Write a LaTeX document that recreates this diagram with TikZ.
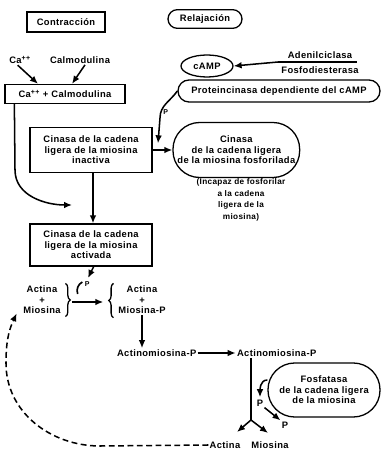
\documentclass[tikz,border=0pt]{standalone}
\usepackage{fontspec}
\setmainfont{Liberation Sans}[LetterSpace=4]
\usetikzlibrary{arrows.meta, positioning, calc, shapes.geometric, decorations.pathreplacing}

\begin{document}
\begin{tikzpicture}[
    >={Latex[length=2.4mm, width=2mm]},
    arr/.style={->, line width=1.3pt},
    lbl/.style={font=\fontsize{8}{9}\selectfont\bfseries, align=center, inner sep=1pt},
    small/.style={font=\fontsize{7}{10}\selectfont\bfseries, align=center, inner sep=1pt},
    box/.style={lbl, draw, line width=1.1pt},
    pill/.style={lbl, draw, line width=1.1pt},
    oval/.style={lbl, draw, ellipse, line width=1.1pt, inner sep=0pt},
    brc/.style={decorate, decoration={brace, amplitude=4pt}, line width=1.1pt},
]
\useasboundingbox (0,0) rectangle (11.43,13.5);
% ============================================================
% TOP:  Contraccion / Relajacion
% ============================================================
\node[box, minimum width=2.34cm, minimum height=0.6cm] (contra) at (1.98, 12.84) {Contracción};
\node[pill, rounded corners=2.8mm, minimum width=2.22cm, minimum height=0.56cm] (relaj) at (6.15, 12.93) {Relajación};
% --- Ca / Calmodulina ---
\node[lbl] (ca) at (0.6, 11.7) {Ca\textsuperscript{++}};
\node[lbl] (calm) at (2.4, 11.7) {Calmodulina};
\node[box, minimum width=3.6cm, minimum height=0.57cm] (cacalm) at (1.95, 10.68) {Ca\textsuperscript{++} + Calmodulina};
\draw[arr] ([xshift=-2pt]ca.south) -- ([xshift=-0.81cm]cacalm.north);
\draw[arr] ([xshift=0.15cm]calm.south) -- ([xshift=0.21cm]cacalm.north);
% --- cAMP ---
\node[oval, minimum width=1.56cm, minimum height=0.66cm] (camp) at (6.21, 11.52) {cAMP};
\node[lbl] (adenil) at (9.6, 11.85) {Adenilciclasa};
\node[lbl] (fosfo) at (9.6, 11.4) {Fosfodiesterasa};
\coordinate (barL) at (8.34, 11.64);
\coordinate (barR) at (10.7, 11.64);
\draw[line width=1.1pt] (barL) -- (barR);
\draw[arr] (barL) -- (camp.east);
% --- Proteincinasa ---
\node[pill, rounded corners=3.3mm, minimum width=6.06cm, minimum height=0.66cm] (protk) at (8.37, 10.77) {Proteincinasa dependiente del cAMP};
% ============================================================
% MIDDLE: inactiva -> fosforilada
% ============================================================
\node[box, minimum width=3.66cm, minimum height=1.35cm] (inact) at (2.73, 9.0) {Cinasa de la cadena\\ligera de la miosina\\inactiva};
\node[pill, rounded corners=8mm, minimum width=3.8cm, minimum height=1.65cm] (fosfor) at (7.09, 9.0) {Cinasa\\de la cadena ligera\\de la miosina fosforilada};
\node[small] (incap) at (7.23, 7.5) {(Incapaz de fosforilar\\a la cadena\\ligera de la\\miosina)};
\draw[arr] (inact.east) -- (fosfor.west);
% P from proteincinasa
\coordinate (pjoin) at (4.74, 9.2);
\draw[arr] (protk.west) to[out=-125, in=90] (4.8, 9.96) -- (pjoin);
\node[lbl, font=\fontsize{6}{7}\selectfont\bfseries] (pk) at (4.97, 10.14) {P};
% Ca-calmodulina -> activada
\coordinate (catip) at (2.16, 7.35);
\draw[arr] ([xshift=0.3cm]cacalm.south west) -- (0.45, 8.4) to[out=-90, in=180] (catip);
% ============================================================
% LOWER: activada + actina/miosina
% ============================================================
\node[box, minimum width=3.66cm, minimum height=1.26cm] (activ) at (2.73, 6.15) {Cinasa de la cadena\\ligera de la miosina\\activada};
\draw[arr] ([xshift=0.06cm]inact.south) -- ([xshift=0.06cm]activ.north);
\coordinate (pin) at (2.64, 5.16);
\draw[arr] ([xshift=0.08cm]activ.south) -- (pin);
\node[lbl] (am) at (1.26, 4.5) {Actina\\+\\Miosina};
\node[lbl] (amp) at (4.26, 4.5) {Actina\\+\\Miosina-P};
\draw[brc] ([xshift=3pt, yshift=1pt]am.north east) -- ([xshift=3pt, yshift=-1pt]am.south east);
\draw[brc] ([xshift=-3pt, yshift=-2pt]amp.south west) -- ([xshift=-3pt, yshift=1pt]amp.north west);
\draw[arr] ([xshift=0.3cm, yshift=-0.06cm]am.east) -- ([xshift=-0.41cm, yshift=-0.06cm]amp.west);
\draw[line width=1.4pt] (2.47, 5.04) to[bend right=40] (2.33, 4.68);
\node[lbl, font=\fontsize{6}{7}\selectfont\bfseries] (pa) at (2.62, 4.98) {P};
% ============================================================
% BOTTOM: actinomiosina, fosfatasa
% ============================================================
\node[lbl] (act1) at (4.7, 2.91) {Actinomiosina-P};
\node[lbl] (act2) at (8.3, 2.91) {Actinomiosina-P};
\draw[arr] (amp.south) -- (amp.south |- act1.north);
\draw[arr] (act1.east) -- (act2.west);
\coordinate (split) at (7.53, 0.9);
\draw[line width=1.3pt] (act2.south -| split) -- (split);
\node[lbl] (actl) at (6.75, 0.15) {Actina};
\node[lbl] (miol) at (8.1, 0.15) {Miosina};
\coordinate (tipA) at (7.11, 0.54);
\coordinate (tipM) at (8.04, 0.51);
\draw[arr] (split) -- (tipA);
\draw[arr] (split) -- (tipM);
\node[pill, rounded corners=8mm, minimum width=3.36cm, minimum height=1.62cm] (fosf) at (9.72, 1.8) {Fosfatasa\\de la cadena ligera\\de la miosina};
\node[lbl] (p1) at (7.8, 1.41) {P};
\node[lbl] (p2) at (8.55, 0.75) {P};
\draw[arr, shorten >=1pt] ([yshift=0.3cm]fosf.west) to[out=180, in=90] (p1.north);
\draw[arr] (p1.south east) -- (p2.north west);
% dashed return to actina + miosina
\draw[arr, dashed, dash pattern=on 5pt off 3pt] (actl.west) -- (3.0, 0.12) to[out=180, in=-90] (0.18, 2.6) to[out=90, in=-115] (0.5, 4.1);
\end{tikzpicture}
\end{document}
